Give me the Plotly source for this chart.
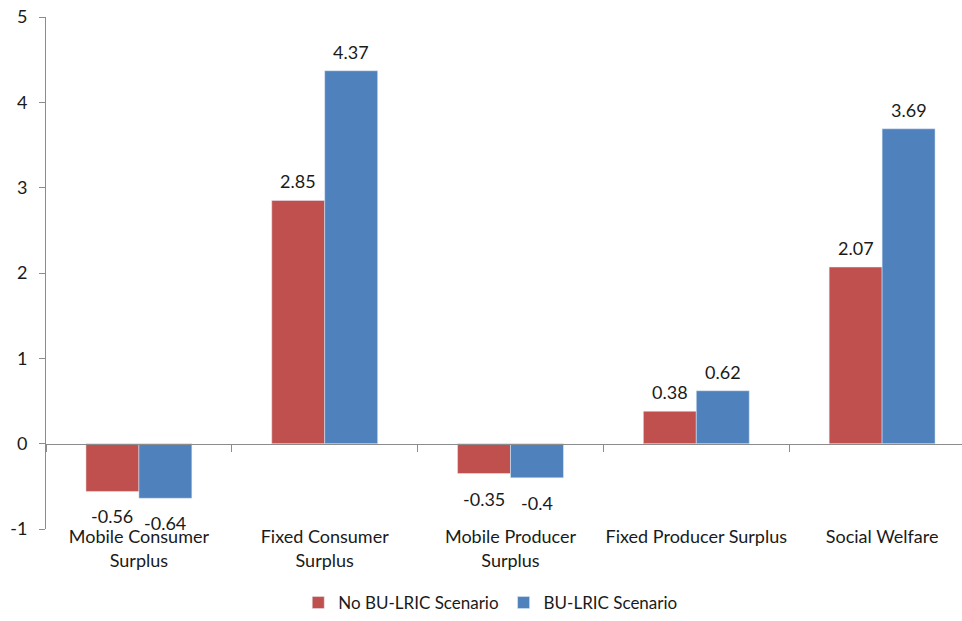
import plotly.graph_objects as go

# Welfare impact by component (values shown on the bars)
categories = [
    "Mobile Consumer<br>Surplus",
    "Fixed Consumer<br>Surplus",
    "Mobile Producer<br>Surplus",
    "Fixed Producer Surplus",
    "Social Welfare",
]
no_bulric = [-0.56, 2.85, -0.35, 0.38, 2.07]
bulric = [-0.64, 4.37, -0.40, 0.62, 3.69]
y_ticks = [-1, 0, 1, 2, 3, 4, 5]
y_tick_text = ["-1", "0", "1", "2", "3", "4", "5"]

FONT = "Lato, Open Sans, sans-serif"
TEXT = "#1a1a1a"
AXIS = "#8c8c8c"
BARGAP = 0.43

fig = go.Figure()
series = [
    ("No BU-LRIC Scenario", no_bulric, "#C0504D", -1),
    ("BU-LRIC Scenario", bulric, "#4F81BD", 1),
]
for name, vals, color, side in series:
    fig.add_trace(go.Bar(name=name, x=categories, y=vals, marker=dict(color=color)))
    # value labels sit a little away from each bar end
    for cat, v in zip(categories, vals):
        fig.add_annotation(
            x=cat, y=v, text=f"{v:g}", showarrow=False,
            xshift=side * 26.5, yshift=19 if v >= 0 else -25,
            yanchor="middle", font=dict(size=18, color=TEXT, family=FONT),
        )

fig.update_layout(
    width=962, height=621,
    margin=dict(l=46, r=0, t=17, b=84),
    paper_bgcolor="white", plot_bgcolor="white",
    barmode="group", bargap=BARGAP, bargroupgap=0,
    font=dict(family=FONT, size=18, color=TEXT),
    showlegend=True,
    legend=dict(
        orientation="h", x=0.485, xanchor="center", y=-0.145, yanchor="middle",
        font=dict(size=17, color=TEXT, family=FONT),
        itemwidth=30, traceorder="normal",
    ),
    xaxis=dict(
        type="category", range=[-0.5, 4.43],
        anchor="free", position=1 / 6,
        showline=True, linecolor=AXIS, linewidth=1,
        ticks="outside", tickson="boundaries", ticklen=7, tickcolor=AXIS,
        ticklabelstandoff=77, tickangle=0, automargin=False,
        showgrid=False, zeroline=False,
        tickfont=dict(size=18, color=TEXT, family=FONT),
    ),
    yaxis=dict(
        range=[-1, 5], tickvals=y_ticks, ticktext=y_tick_text,
        showline=True, linecolor=AXIS, linewidth=1,
        ticks="outside", ticklen=6, tickcolor=AXIS,
        ticklabelstandoff=8, automargin=False,
        showgrid=False, zeroline=False,
        tickfont=dict(size=18, color=TEXT, family=FONT),
    ),
)

fig.write_html("out.html")
